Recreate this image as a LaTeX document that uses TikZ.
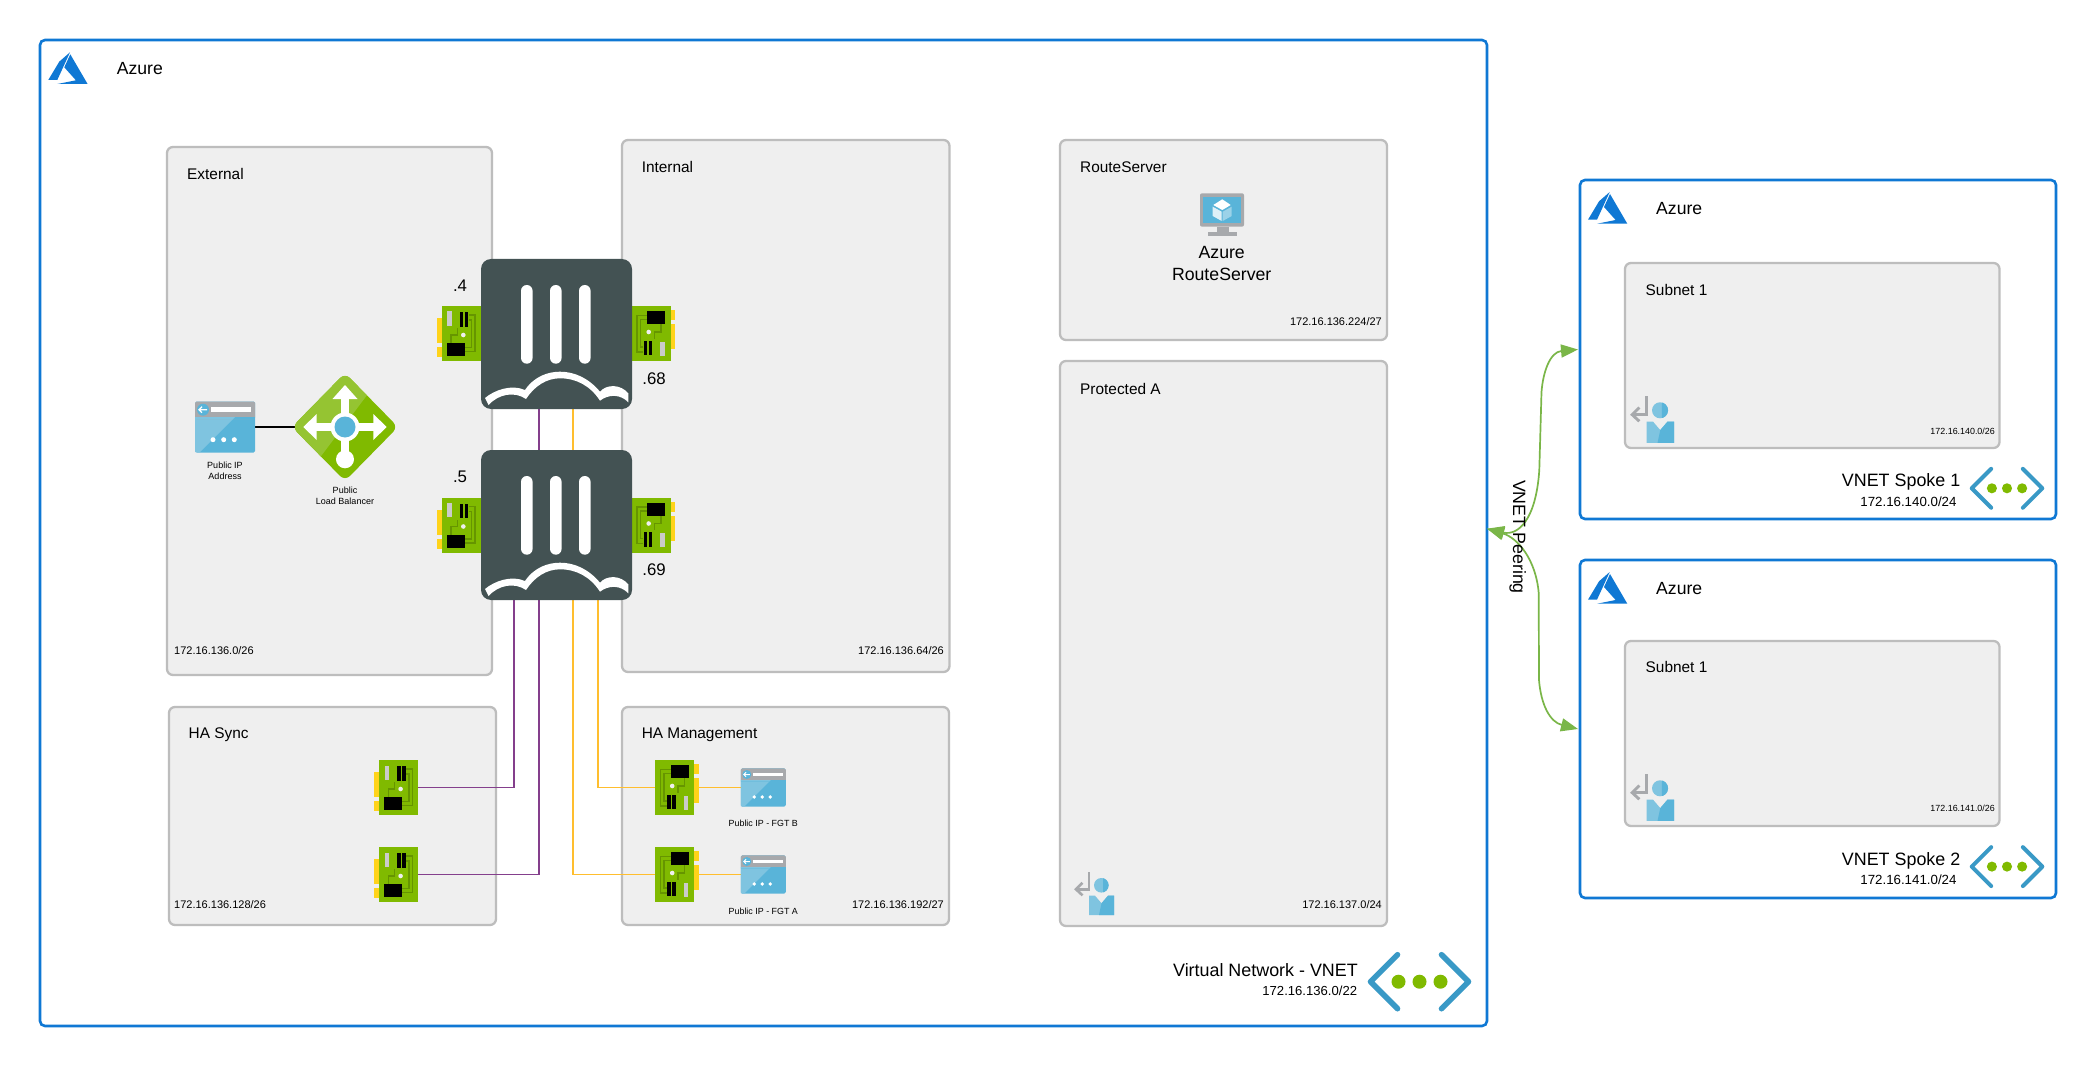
\documentclass[tikz,border=0pt]{standalone}
\usepackage{fontspec}
\setmainfont{Liberation Sans}
\usetikzlibrary{arrows.meta,calc}
\definecolor{azline}{HTML}{0F78D4}
\definecolor{subfill}{HTML}{EFEFEF}
\definecolor{subline}{HTML}{BDBDBD}
\definecolor{fgt}{HTML}{435253}
\definecolor{nicgreen}{HTML}{80BA00}
\definecolor{nicdark}{HTML}{669500}
\definecolor{nicyellow}{HTML}{FFD31A}
\definecolor{ipblue}{HTML}{59B4D9}
\definecolor{iplight}{HTML}{7FC4E0}
\definecolor{ipgray}{HTML}{A7A9AC}
\definecolor{lblight}{HTML}{95C432}
\definecolor{vnetblue}{HTML}{3999C6}
\definecolor{purp}{HTML}{843F8C}
\definecolor{yell}{HTML}{FFBE2E}
\definecolor{peer}{HTML}{7AB648}
\tikzset{
  x=1pt,y=-1pt,
  fsz/.style={font=\fontsize{#1}{20}\selectfont},
  outerbox/.style={draw=azline,fill=white,line width=2.6pt,rounded corners=5pt,inner sep=0pt,outer sep=0pt,anchor=north west},
  subnetbox/.style={draw=subline,fill=subfill,line width=2.3pt,rounded corners=6pt,inner sep=0pt,outer sep=0pt,anchor=north west},
  lbl/.style={inner sep=0pt,anchor=west,fsz=#1},
  lblr/.style={inner sep=0pt,anchor=east,fsz=#1},
  lblc/.style={inner sep=0pt,anchor=center,fsz=#1,align=center},
  anchorbox/.style args={#1x#2}{inner sep=0pt,outer sep=0pt,minimum width=#1pt,minimum height=#2pt},
  purpline/.style={draw=purp,line width=1.9pt},
  yellline/.style={draw=yell,line width=1.9pt},
  peerline/.style={draw=peer,line width=1.7pt,{Triangle[length=17pt,width=13pt]}-{Triangle[length=17pt,width=13pt]}},
  pics/azlogo/.style={code={
    \fill[azline] (21.7,0)--(11,9.3)--(0,27.7)--(9,27.7)--cycle;
    \fill[azline] (22,2)--(39.3,31.7)--(9,31.7)--(27.6,28)--(16,15)--cycle;
  }},
  pics/nic/.style={code={
    \fill[nicyellow] (-24,-15.5) rectangle (-19,9.5);
    \fill[nicyellow] (-24,13.5) rectangle (-19,23.5);
    \fill[nicgreen] (-19.5,-27.5) rectangle (19.5,27.5);
    \draw[nicdark,line width=1.5pt] (8,-18.5)--(14,-18.5)--(14,18.2)--(4,18.2);
    \draw[nicdark,line width=1.5pt] (8,-13.5)--(10.7,-13.5)--(10.7,13.8)--(4,13.8);
    \draw[nicdark,line width=1.5pt] (-10,9.8)--(-10,1.5)--(-3.7,1.5)--(-3.7,-5.2);
    \fill[subfill!85!black] (-13.7,-22) rectangle (-9.3,-8);
    \fill[black] (-1,-21.5) rectangle (2.3,-7);
    \fill[black] (3.7,-21.5) rectangle (7.3,-7);
    \fill[black] (-14.3,9.5) rectangle (4,22.5);
    \fill[subfill] (2.3,1.5) circle (2.3pt);
  }},
  pics/pubip/.style={code={
    \begin{scope}[scale=#1]
    \fill[ipblue,rounded corners=1.5pt] (-30,-25.5) rectangle (30,25.5);
    \fill[iplight] (-30,-10)--(10,-10)--(-25,25)--(-30,25)--cycle;
    \fill[ipgray,rounded corners=1.5pt] (-30,-25.5) rectangle (30,-8);
    \fill[ipblue] (-30,-10) rectangle (30,-8);
    \fill[iplight] (-30,-10)--(10,-10)--(8,-8)--(-30,-8)--cycle;
    \fill[ipblue] (-22,-17.3) circle (6pt);
    \draw[white,line width=#1*1.3pt] (-18,-17.3)--(-26,-17.3) (-23,-20.3)--(-26,-17.3)--(-23,-14.3);
    \fill[white] (-14.3,-19.7) rectangle (25.7,-15);
    \fill[white] (-12,12.7) circle (2.5pt);
    \fill[white] (-1.3,12.7) circle (2.5pt);
    \fill[white] (9.3,12.7) circle (2.5pt);
    \end{scope}
  }},
  pics/lbal/.style={code={
    \begin{scope}
      \clip[rounded corners=7pt] (0,-54)--(53,0)--(0,54)--(-53,0)--cycle;
      \fill[nicgreen] (-58,-58) rectangle (58,58);
      \fill[lblight] (41,-57)--(-45,57)--(-60,57)--(-60,-57)--cycle;
    \end{scope}
    \fill[white] (-4,-30) rectangle (4,32);
    \fill[white] (-30,-4) rectangle (30,4);
    \fill[white] (0,-42)--(12.5,-28)--(-12.5,-28)--cycle;
    \fill[white] (-41.7,0)--(-28.3,-13)--(-28.3,13)--cycle;
    \fill[white] (41.7,0)--(28.3,-13)--(28.3,13)--cycle;
    \fill[white] (0,0) circle (14.5pt);
    \fill[ipblue] (0,0) circle (10.5pt);
    \fill[white] (0,32.3) circle (9pt);
  }},
  pics/fortigate/.style={code={
    \fill[fgt,rounded corners=10pt] (-75.5,-75) rectangle (75.5,75);
    \fill[white,rounded corners=5.8pt] (-35.5,-49) rectangle (-23.9,29.7);
    \fill[white,rounded corners=5.8pt] (-6.5,-49) rectangle (5.1,29.7);
    \fill[white,rounded corners=5.8pt] (22.5,-49) rectangle (34.1,29.7);
    \fill[white] (-71.5,64) .. controls (-62,56) and (-45,50) .. (-31.5,56)
       .. controls (-22,42) and (-8,37.7) .. (3.5,37.7)
       .. controls (18,37.7) and (32,44) .. (43.5,57.7)
       .. controls (50,50) and (64,50) .. (71.8,59.3) -- (71.8,68.3)
       .. controls (64,60) and (52,60) .. (43.5,66.7)
       .. controls (34,52) and (20,44.3) .. (3.5,44.3)
       .. controls (-10,44.3) and (-22,52) .. (-30.5,65)
       .. controls (-42,57) and (-58,60) .. (-68,71) -- cycle;
  }},
  pics/userrole/.style={code={
    \begin{scope}[scale=#1]
    \draw[ipgray,line width=#1*2.6pt] (15,0)--(15,17)--(2,17);
    \draw[ipgray,line width=#1*2.6pt] (8.5,10.5)--(2,17)--(8.5,23);
    \fill[iplight] (27.3,13) circle (7.3pt);
    \begin{scope}
      \clip (29,0) rectangle (40,24);
      \fill[ipblue] (27.3,13) circle (7.3pt);
    \end{scope}
    \fill[iplight] (15,23.4)--(21,23.4)--(27.5,31)--(34,23.4)--(40,23.4)--(40,42.7)--(15,42.7)--cycle;
    \fill[ipblue] (27.5,31)--(34,23.4)--(40,23.4)--(40,42.7)--(25,42.7)--cycle;
    \end{scope}
  }},
  pics/vnet/.style={code={
    \begin{scope}[scale=#1]
    \draw[vnetblue,line width=#1*5.6pt,line cap=round,line join=round] (-22,-27)--(-49,0)--(-22,27);
    \draw[vnetblue,line width=#1*5.6pt,line cap=round,line join=round] (22,-27)--(49,0)--(22,27);
    \fill[nicgreen] (-21,0) circle (7pt);
    \fill[nicgreen] (0,0) circle (7pt);
    \fill[nicgreen] (21,0) circle (7pt);
    \end{scope}
  }},
  pics/routesrv/.style={code={
    \fill[ipgray,rounded corners=2pt] (-22,-20.7) rectangle (22,12.7);
    \fill[ipblue] (-18.7,-16.7) rectangle (18.7,9.3);
    \fill[ipgray] (-5.3,12.7) rectangle (7.3,17.7);
    \fill[ipgray] (-14.3,17.7) rectangle (14.7,21.7);
    \fill[white] (0.3,-14.7)--(8.7,-9)--(0.3,-4)--(-8.7,-9)--cycle;
    \fill[white!80!ipblue] (-9.3,-7.3)--(-0.3,-2.3)--(-0.3,7)--(-9.3,2)--cycle;
    \fill[white!40!ipblue] (0.7,-2.3)--(9.7,-7.3)--(9.7,2)--(0.7,7)--cycle;
  }},
}
\begin{document}
\begin{tikzpicture}
\useasboundingbox (0,0) rectangle (2096,1067);
\fill[white] (0,0) rectangle (2096,1067);

% containers
\node[outerbox,minimum width=1447pt,minimum height=986pt] (main) at (40,40) {};
\node[outerbox,minimum width=476pt,minimum height=339pt] (spokeone) at (1580,180) {};
\node[outerbox,minimum width=476pt,minimum height=338pt] (spoketwo) at (1580,560) {};

\node[subnetbox,minimum width=325pt,minimum height=528pt] (external) at (167,147) {};
\node[subnetbox,minimum width=327.5pt,minimum height=532pt] (internal) at (622,140) {};
\node[subnetbox,minimum width=327pt,minimum height=218pt] (hasync) at (169,707) {};
\node[subnetbox,minimum width=327pt,minimum height=218pt] (hamgmt) at (622,707) {};
\node[subnetbox,minimum width=327pt,minimum height=200pt] (routeserver) at (1060,140) {};
\node[subnetbox,minimum width=327pt,minimum height=565pt] (protected) at (1060,361) {};
\node[subnetbox,minimum width=374.5pt,minimum height=185pt] (subone) at (1625,263) {};
\node[subnetbox,minimum width=374.5pt,minimum height=185pt] (subtwo) at (1625,641) {};

% anchors for icons
\node[anchorbox=151x150] (fgta) at (556.5,334) {};
\node[anchorbox=151x150] (fgtb) at (556.5,525) {};
\node[anchorbox=39x55] (nicaext) at (461,333.5) {};
\node[anchorbox=39x55] (nicaint) at (651,333.5) {};
\node[anchorbox=39x55] (nicbext) at (461,525) {};
\node[anchorbox=39x55] (nicbint) at (651,525) {};
\node[anchorbox=39x55] (syncb) at (398.3,787.5) {};
\node[anchorbox=39x55] (synca) at (398.3,874.5) {};
\node[anchorbox=39x55] (mgmtb) at (674.5,787.5) {};
\node[anchorbox=39x55] (mgmta) at (674.5,874.5) {};
\node[anchorbox=45x38] (ipb) at (763.3,787.5) {};
\node[anchorbox=45x38] (ipa) at (763.3,874.5) {};
\node[anchorbox=60x51] (pubip) at (225,427) {};
\node[anchorbox=94x102] (lb) at (345,427) {};

% connectors
\draw[black,line width=1.9pt] (pubip.east)--(lb.west);
\draw[purpline] ([xshift=-17.5pt]fgta.south) |- (synca.east);
\draw[purpline] ([xshift=-42.2pt]fgtb.south) |- (syncb.east);
\draw[yellline] ([xshift=16.2pt]fgta.south) |- (mgmta.west);
\draw[yellline] ([xshift=41.5pt]fgtb.south) |- (mgmtb.west);
\draw[yellline] (mgmtb.east)--(ipb.west);
\draw[yellline] (mgmta.east)--(ipa.west);
\draw[peerline] ([yshift=4.3pt]main.east) .. controls (1518,536) and (1536,520) .. (1539.3,470) -- (1541.5,392) .. controls (1543,372) and (1550,352) .. ([xshift=-2pt]spokeone.west);
\draw[peerline] ([yshift=4.3pt]main.east) .. controls (1518,538) and (1536,560) .. (1538.7,593) -- (1539,680) .. controls (1541,705) and (1550,722) .. ([xshift=-2pt]spoketwo.west);

% icons
\pic at (48.3,52.3) {azlogo};
\pic at (1588,192) {azlogo};
\pic at (1588,572) {azlogo};
\pic at (nicaext) {nic};
\pic at (nicbext) {nic};
\pic[rotate=180] at (nicaint) {nic};
\pic[rotate=180] at (nicbint) {nic};
\pic at (syncb) {nic};
\pic at (synca) {nic};
\pic[rotate=180] at (mgmtb) {nic};
\pic[rotate=180] at (mgmta) {nic};
\pic at (fgta) {fortigate};
\pic at (fgtb) {fortigate};
\pic at (pubip) {pubip=1};
\pic at (ipb) {pubip=0.75};
\pic at (ipa) {pubip=0.75};
\pic at (lb) {lbal};
\pic at (1222,214) {routesrv};
\pic at (1074,872.3) {userrole=1};
\pic at (1630,396) {userrole=1.1};
\pic at (1630,774) {userrole=1.1};
\pic at (1419.5,981.7) {vnet=1};
\pic at (2007,488.3) {vnet=0.72};
\pic at (2007,866.6) {vnet=0.72};

% titles
\node[lbl=17.6] (tazure) at (116.7,69) {Azure};
\node[lbl=17.6] (tazurea) at (1656,209) {Azure};
\node[lbl=17.6] (tazureb) at (1656,588.5) {Azure};
\node[lbl=15.4] (text) at (187,173.7) {External};
\node[lbl=15.4] (tint) at (641.6,167) {Internal};
\node[lbl=15.4] (tsync) at (188.5,735) {HA Sync};
\node[lbl=15.4] (tmgmt) at (641.6,735) {HA Management};
\node[lbl=15.4] (trs) at (1080,167) {RouteServer};
\node[lbl=15.4] (tprot) at (1080,388.5) {Protected A};
\node[lbl=15.4] (tsuba) at (1645.5,290) {Subnet 1};
\node[lbl=15.4] (tsubb) at (1645.5,667) {Subnet 1};

% cidr
\node[lbl=11] (c1) at (174,651) {172.16.136.0/26};
\node[lblr=11] (c2) at (944,651) {172.16.136.64/26};
\node[lbl=11] (c3) at (174,905) {172.16.136.128/26};
\node[lblr=11] (c4) at (944,905) {172.16.136.192/27};
\node[lblr=11] (c5) at (1382,322) {172.16.136.224/27};
\node[lblr=11] (c6) at (1382,905) {172.16.137.0/24};
\node[lblr=8.9] (c7) at (1995,431.7) {172.16.140.0/26};
\node[lblr=8.9] (c8) at (1995,808.7) {172.16.141.0/26};

% interface labels
\node[lblc=16.8] (l4) at (460,285.7) {.4};
\node[lblc=16.8] (l68) at (654,379) {.68};
\node[lblc=16.8] (l5) at (460,476.5) {.5};
\node[lblc=16.8] (l69) at (654,570) {.69};

% icon captions
\node[lblc=9] (tpub1) at (225,465.7) {Public IP};
\node[lblc=9] (tpub2) at (225,476.5) {Address};
\node[lblc=9] (tlb1) at (345,490.5) {Public};
\node[lblc=9] (tlb2) at (345,501.5) {Load Balancer};
\node[lblc=8.9] (tfgtb) at (763.3,823.7) {Public IP - FGT B};
\node[lblc=8.9] (tfgta) at (763.3,911.3) {Public IP - FGT A};
\node[lblc=17.7] (trs1) at (1221.7,252.7) {Azure};
\node[lblc=17.7] (trs2) at (1221.7,274.7) {RouteServer};

% vnet labels
\node[lblr=17.9] (v1) at (1358,970.5) {Virtual Network - VNET};
\node[lblr=13.1] (v2) at (1357.3,990.7) {172.16.136.0/22};
\node[lblr=17.9] (v3) at (1960.5,482.3) {VNET Spoke 1};
\node[lblr=13.3] (v4) at (1956.7,501.7) {172.16.140.0/24};
\node[lblr=17.9] (v5) at (1960.5,861) {VNET Spoke 2};
\node[lblr=13.3] (v6) at (1956.7,879.5) {172.16.141.0/24};
\node[lblc=17.8,rotate=-90] (peering) at (1517.7,537) {VNET Peering};
\end{tikzpicture}
\end{document}
